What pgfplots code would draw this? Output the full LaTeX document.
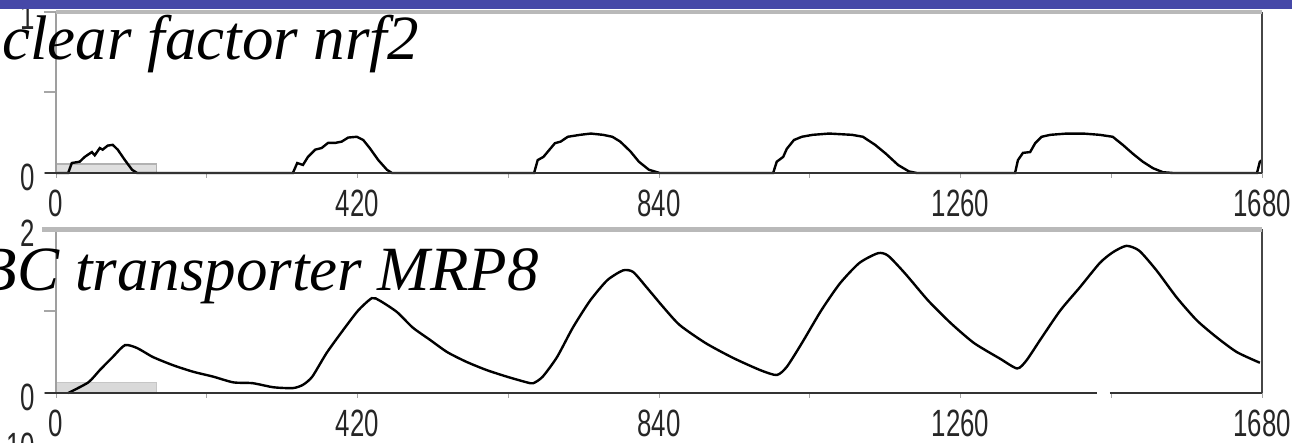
\documentclass[border=0pt]{standalone}
\usepackage{pgfplots}
\pgfplotsset{compat=1.18}
\usepackage{fontspec}
\setmainfont{Liberation Serif}
\newfontfamily\tickfont[FakeStretch=0.68]{Liberation Sans}
\definecolor{barblue}{RGB}{70,72,168}
\newcommand\ticksz{\tickfont\fontsize{38bp}{38bp}\selectfont}
\newcommand\titlesz{\itshape\fontsize{63bp}{63bp}\selectfont}
\pgfplotsset{
 panel/.style={
  scale only axis, width=1206bp, xmin=0, xmax=1680, ymin=0, clip=false,
  axis line style={draw=none},
  tick pos=left,
  tick align=outside,
  major tick length=12bp,
  xtick={0,420,840,1260,1680},
  xticklabels={0,420,840,1260,1680},
  minor xtick={210,630,1050,1470},
  xtick style={draw=gray!70, line width=1bp, /pgfplots/major tick length=5bp, /pgfplots/minor tick length=5bp},
  ytick style={draw=gray!70, line width=2bp},
  ticklabel style={font=\ticksz, text=black!85, inner sep=0pt},
  xticklabel style={anchor=north, yshift=-5bp},
  yticklabel style={anchor=east, xshift=-9bp, yshift=-4bp},
  /pgf/number format/assume math mode=true,
 }
}
\begin{document}
\begin{tikzpicture}
\useasboundingbox (0,0) rectangle (1292bp,443bp);
\clip (0,0) rectangle (1292bp,443bp);
% top panel: nuclear factor nrf2
\begin{axis}[panel, height=161bp, at={(56bp,270bp)}, anchor=south west,
  ymax=1, ytick={0,0.5,1}, yticklabels={0,{},1}]
\addplot[fill=gray!25, draw=gray!60, line width=1.2bp] coordinates {(0,0) (0,0.056) (140,0.056) (140,0)} \closedcycle;
\addplot[black, line width=2.4bp] coordinates {
(0,0)(17,0)(22,0.062)(33,0.07)(40,0.1)(50,0.13)(54,0.11)(61,0.155)(65,0.145)(72,0.17)(79,0.175)(86,0.145)(96,0.08)(106,0.02)(113,0)
(330,0)(336,0.062)(344,0.05)(351,0.1)(361,0.145)(370,0.155)(379,0.187)(389,0.187)(398,0.195)(407,0.22)(419,0.225)(428,0.205)(437,0.155)(449,0.08)(461,0.02)(468,0)
(666,0)(671,0.08)(679,0.1)(695,0.185)(703,0.195)(713,0.225)(730,0.237)(745,0.245)(762,0.237)(775,0.225)(786,0.195)(800,0.135)(812,0.07)(826,0.02)(841,0)
(999,0)(1004,0.07)(1013,0.1)(1018,0.15)(1028,0.205)(1039,0.225)(1054,0.237)(1077,0.245)(1109,0.237)(1124,0.225)(1141,0.175)(1156,0.12)(1173,0.05)(1188,0.01)(1199,0)
(1336,0)(1340,0.08)(1347,0.125)(1357,0.13)(1364,0.185)(1373,0.225)(1385,0.237)(1408,0.245)(1431,0.245)(1454,0.237)(1472,0.225)(1486,0.175)(1500,0.12)(1514,0.07)(1528,0.03)(1542,0.005)(1556,0)(1673,0)(1677,0.07)(1680,0.08)
};
\draw[gray!75, line width=1.2bp] (rel axis cs:0,0) -- (rel axis cs:0,1);
\draw[gray!55!black, line width=1.3bp] (rel axis cs:1,0) -- (rel axis cs:1,1);
\draw[gray!55, line width=4.5bp] (rel axis cs:0,1) -- (rel axis cs:1,1);
\draw[black!80, line width=2.6bp] ([xshift=-11bp]axis cs:0,0) -- (axis cs:1680,0);
\end{axis}
% bottom panel: ABC transporter MRP8
\begin{axis}[panel, height=163.5bp, at={(56bp,50bp)}, anchor=south west,
  ymax=2, ytick={0,1,2}, yticklabels={0,{},2}]
\addplot[fill=gray!30, draw=gray!45, line width=0.8bp] coordinates {(0,0) (0,0.13) (140,0.13) (140,0)} \closedcycle;
\addplot[black, line width=2.4bp, smooth, tension=0.4] coordinates {
(17,0)(45,0.13)(61,0.28)(79,0.44)(96,0.585)(113,0.55)(135,0.44)(163,0.34)(191,0.26)(219,0.2)(247,0.13)(274,0.12)(303,0.07)(330,0.06)(344,0.1)(357,0.2)(377,0.49)(400,0.77)(421,1.01)(440,1.16)(451,1.13)(475,0.99)(497,0.80)(521,0.65)(545,0.50)(572,0.38)(600,0.28)(628,0.2)(656,0.13)(665,0.12)(678,0.2)(698,0.44)(720,0.80)(744,1.13)(768,1.38)(790,1.50)(804,1.48)(823,1.29)(846,1.05)(869,0.83)(905,0.61)(943,0.43)(981,0.28)(1004,0.22)(1018,0.32)(1039,0.61)(1066,1.01)(1092,1.34)(1119,1.59)(1145,1.71)(1159,1.68)(1183,1.46)(1215,1.13)(1247,0.85)(1279,0.61)(1315,0.42)(1339,0.30)(1352,0.40)(1371,0.65)(1399,1.01)(1426,1.29)(1454,1.59)(1472,1.72)(1491,1.80)(1509,1.74)(1533,1.50)(1561,1.17)(1589,0.89)(1617,0.68)(1645,0.50)(1677,0.37)
};
\draw[gray!75, line width=1.2bp] (rel axis cs:0,0) -- (rel axis cs:0,1);
\draw[gray!55!black, line width=1.3bp] (rel axis cs:1,0) -- (rel axis cs:1,1);
\draw[gray!55, line width=4.5bp] ([xshift=-14bp]rel axis cs:0,1) -- (rel axis cs:1,1);
\draw[black!80, line width=2.6bp] ([xshift=-11bp]axis cs:0,0) -- (axis cs:1450,0);
\draw[black!80, line width=2.6bp] (axis cs:1468,0) -- (axis cs:1680,0);
\end{axis}
% titles
\node[anchor=base east, inner sep=0pt, font=\titlesz] at (419bp,383bp) {Nuclear factor nrf2};
\node[anchor=base east, inner sep=0pt, font=\titlesz] at (539bp,152bp) {ABC transporter MRP8};
% label of the next panel, cut off at the bottom
\node[anchor=north east, inner sep=0pt, font=\ticksz, text=black!85] at (35bp,10bp) {10};
% slide title bar
\fill[barblue] (0,433.5bp) rectangle (1292bp,443bp);
\end{tikzpicture}
\end{document}
